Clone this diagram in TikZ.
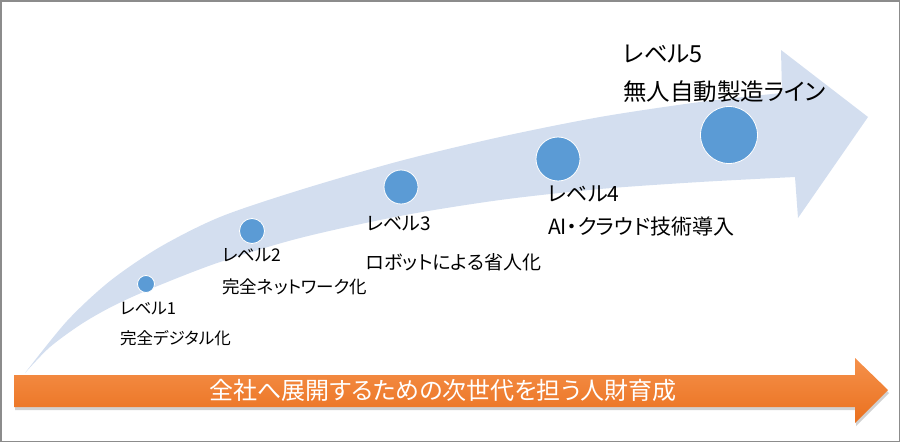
\documentclass[tikz,border=0pt]{standalone}
\usepackage{fontspec}
\setmainfont[RawFeature=+palt]{Noto Sans CJK JP}
\usetikzlibrary{positioning}
\definecolor{bandblue}{RGB}{211,222,239}
\definecolor{dotblue}{RGB}{91,155,213}
\definecolor{orangetop}{RGB}{245,145,75}
\definecolor{orangebot}{RGB}{234,112,30}

\begin{document}
\begin{tikzpicture}[x=1pt,y=-1pt,
  dot/.style={circle,fill=dotblue,draw=white,line width=0.8pt,inner sep=0pt},
  lbl/.style={anchor=west,inner sep=0pt},
  fa/.style={font=\fontsize{16.5}{16.5}\selectfont},
  fb/.style={font=\fontsize{17.5}{17.5}\selectfont},
  fc/.style={font=\fontsize{19}{19}\selectfont},
  fd/.style={font=\fontsize{21}{21}\selectfont},
  fe/.style={font=\fontsize{23.5}{23.5}\selectfont}]
  \useasboundingbox (0,0) rectangle (900,442);
  \draw[black!45,line width=1.5pt] (0.75,0.75) rectangle (899.25,441.25);
  \fill[bandblue] (25,373)
    -- plot[smooth] coordinates {(25,373) (67,321) (110,281) (160,247) (220,217)
       (300,190) (400,161) (500,137) (600,117) (700,102) (782,93)}
    -- (781,50) -- (868,117) -- (798,218)
    -- plot[smooth] coordinates {(795,177) (700,182) (600,189) (500,200) (400,216)
       (300,238) (220,262) (160,285) (117,304) (83,323) (50,347) (25,373)}
    -- cycle;
  \node[dot,minimum size=17pt] (lv1) at (146,284) {};
  \node[dot,minimum size=25pt] (lv2) at (252,231) {};
  \node[dot,minimum size=34pt] (lv3) at (401,187) {};
  \node[dot,minimum size=44pt] (lv4) at (558,159) {};
  \node[dot,minimum size=57pt] (lv5) at (729,135) {};
  \node[lbl,fa] (lv1a) at (120,309) {レベル1};
  \node[lbl,fa] (lv1b) at (120,338) {完全デジタル化};
  \node[lbl,fb] (lv2a) at (222,255) {レベル2};
  \node[lbl,fb] (lv2b) at (222,287) {完全ネットワーク化};
  \node[lbl,fc] (lv3a) at (366,224) {レベル3};
  \node[lbl,fc] (lv3b) at (366,262) {ロボットによる省人化};
  \node[lbl,fd] (lv4a) at (548,194) {レベル4};
  \node[lbl,fd] (lv4b) at (548,227) {AI・クラウド技術導入};
  \node[lbl,fe] (lv5a) at (623,54) {レベル5};
  \node[lbl,fe] (lv5b) at (623,92) {無人自動製造ライン};
  \fill[black,opacity=0.18,shift={(1,3)}] (14,375) -- (855,375) -- (855,358)
    -- (888,390) -- (855,423) -- (855,407) -- (14,407) -- cycle;
  \shade[top color=orangetop,bottom color=orangebot] (14,375) -- (855,375)
    -- (855,358) -- (888,390) -- (855,423) -- (855,407) -- (14,407) -- cycle;
  \node[text=white,font=\fontsize{24}{24}\selectfont] (hr) at (443,390)
    {全社へ展開するための次世代を担う人財育成};
\end{tikzpicture}
\end{document}
